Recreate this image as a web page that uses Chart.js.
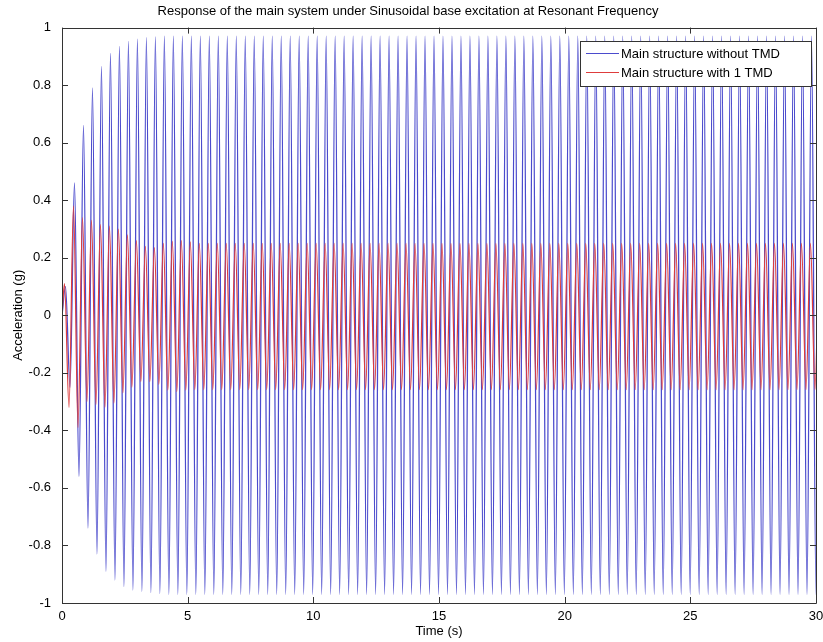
<!DOCTYPE html>
<html lang="en">
<head>
    <meta charset="UTF-8">
    <title>Response of the main system under Sinusoidal base excitation at Resonant Frequency</title>
    <style>
        * { margin: 0; padding: 0; box-sizing: border-box; }
        body { background-color: #fff; }
        #chart { display: block; }
    </style>
</head>
<body>

<canvas id="chart" width="823" height="642"></canvas>

<script src="https://cdn.jsdelivr.net/npm/chart.js@4.4.0/dist/chart.umd.min.js"></script>
<script>
// Axis ticks
const xTicks = [0, 5, 10, 15, 20, 25, 30];
const yTicks = [-1, -0.8, -0.6, -0.4, -0.2, 0, 0.2, 0.4, 0.6, 0.8, 1];

// Timing of the oscillation (peak spacing)
const halfPeriod = 0.1788;   // s between a peak and the next trough
const blueStart = 0.14;      // time of first extreme, without TMD
const redStart = 0.10;       // time of first extreme, with 1 TMD

// Successive peaks / troughs, main structure without TMD (g)
const blueExtrema = [
    0.10, -0.25, 0.46, -0.56, 0.66, -0.74, 0.79, -0.83, 0.865, -0.89,
    0.91, -0.92, 0.935, -0.943, 0.952, -0.955, 0.96, -0.96, 0.965, -0.964,
    0.968, -0.967,
    0.97, -0.97, 0.97, -0.97, 0.97, -0.97, 0.97, -0.97, 0.97, -0.97,
    0.97, -0.97, 0.97, -0.97, 0.97, -0.97, 0.97, -0.97, 0.97, -0.97,
    0.97, -0.97, 0.97, -0.97, 0.97, -0.97, 0.97, -0.97, 0.97, -0.97,
    0.97, -0.97, 0.97, -0.97, 0.97, -0.97, 0.97, -0.97, 0.97, -0.97,
    0.97, -0.97, 0.97, -0.97, 0.97, -0.97, 0.97, -0.97, 0.97, -0.97,
    0.97, -0.97, 0.97, -0.97, 0.97, -0.97, 0.97, -0.97, 0.97, -0.97,
    0.97, -0.97, 0.97, -0.97, 0.97, -0.97, 0.97, -0.97, 0.97, -0.97,
    0.97, -0.97, 0.97, -0.97, 0.97, -0.97, 0.97, -0.97, 0.97, -0.97,
    0.97, -0.97, 0.97, -0.97, 0.97, -0.97, 0.97, -0.97, 0.97, -0.97,
    0.97, -0.97, 0.97, -0.97, 0.97, -0.97, 0.97, -0.97, 0.97, -0.97,
    0.97, -0.97, 0.97, -0.97, 0.97, -0.97, 0.97, -0.97, 0.97, -0.97,
    0.97, -0.97, 0.97, -0.97, 0.97, -0.97, 0.97, -0.97, 0.97, -0.97,
    0.97, -0.97, 0.97, -0.97, 0.97, -0.97, 0.97, -0.97, 0.97, -0.97,
    0.97, -0.97, 0.97, -0.97, 0.97, -0.97, 0.97, -0.97, 0.97, -0.97,
    0.97, -0.97, 0.97, -0.97, 0.97, -0.97, 0.97, -0.97
];

// Successive peaks / troughs, main structure with 1 TMD (g)
const redExtrema = [
    0.11, -0.32, 0.38, -0.39, 0.34, -0.30, 0.33, -0.31, 0.315, -0.32,
    0.31, -0.305, 0.30, -0.27, 0.28, -0.25, 0.26, -0.23, 0.24, -0.23,
    0.235, -0.24, 0.25, -0.26, 0.257, -0.265, 0.26, -0.26, 0.255, -0.258,
    0.25, -0.258, 0.25, -0.258, 0.25, -0.258, 0.25, -0.258, 0.25, -0.258,
    0.25, -0.258, 0.25, -0.258, 0.25, -0.258, 0.25, -0.258, 0.25, -0.258,
    0.25, -0.258, 0.25, -0.258, 0.25, -0.258, 0.25, -0.258, 0.25, -0.258,
    0.25, -0.258, 0.25, -0.258, 0.25, -0.258, 0.25, -0.258, 0.25, -0.258,
    0.25, -0.258, 0.25, -0.258, 0.25, -0.258, 0.25, -0.258, 0.25, -0.258,
    0.25, -0.258, 0.25, -0.258, 0.25, -0.258, 0.25, -0.258, 0.25, -0.258,
    0.25, -0.258, 0.25, -0.258, 0.25, -0.258, 0.25, -0.258, 0.25, -0.258,
    0.25, -0.258, 0.25, -0.258, 0.25, -0.258, 0.25, -0.258, 0.25, -0.258,
    0.25, -0.258, 0.25, -0.258, 0.25, -0.258, 0.25, -0.258, 0.25, -0.258,
    0.25, -0.258, 0.25, -0.258, 0.25, -0.258, 0.25, -0.258, 0.25, -0.258,
    0.25, -0.258, 0.25, -0.258, 0.25, -0.258, 0.25, -0.258, 0.25, -0.258,
    0.25, -0.258, 0.25, -0.258, 0.25, -0.258, 0.25, -0.258, 0.25, -0.258,
    0.25, -0.258, 0.25, -0.258, 0.25, -0.258, 0.25, -0.258, 0.25, -0.258,
    0.25, -0.258, 0.25, -0.258, 0.25, -0.258, 0.25, -0.258, 0.25, -0.258
];

const seriesNames = ['Main structure without TMD', 'Main structure with 1 TMD'];
const blueColor = 'rgb(75,75,205)';
const redColor = 'rgb(222,60,60)';
const fontFamily = 'Arial, "Liberation Sans", sans-serif';

// point table for the line charts
function toPoints(start, extrema) {
    const pts = [{ x: 0, y: 0 }];
    extrema.forEach((v, i) => pts.push({ x: start + i * halfPeriod, y: v }));
    return pts;
}

// MATLAB style box with inward ticks + legend inside the axes
const matlabBox = {
    id: 'matlabBox',
    afterDraw(chart) {
        const ctx = chart.ctx;
        const a = chart.chartArea;
        const xs = chart.scales.x, ys = chart.scales.y;
        const tl = 6;
        ctx.save();
        ctx.strokeStyle = '#333';
        ctx.lineWidth = 1;
        ctx.beginPath();
        ctx.rect(Math.round(a.left) + 0.5, Math.round(a.top) + 0.5,
                 Math.round(a.right - a.left), Math.round(a.bottom - a.top));
        xTicks.forEach(v => {
            const px = Math.round(xs.getPixelForValue(v)) + 0.5;
            ctx.moveTo(px, a.bottom); ctx.lineTo(px, a.bottom - tl);
            ctx.moveTo(px, a.top); ctx.lineTo(px, a.top + tl);
        });
        yTicks.forEach(v => {
            const py = Math.round(ys.getPixelForValue(v)) + 0.5;
            ctx.moveTo(a.left, py); ctx.lineTo(a.left + tl, py);
            ctx.moveTo(a.right, py); ctx.lineTo(a.right - tl, py);
        });
        ctx.stroke();

        // legend
        const lx = 580, ly = 41, lw = 231, lh = 45;
        ctx.fillStyle = '#fff';
        ctx.fillRect(lx, ly, lw, lh);
        ctx.strokeStyle = '#333';
        ctx.strokeRect(lx + 0.5, ly + 0.5, lw, lh);
        ctx.font = '13px ' + fontFamily;
        ctx.textBaseline = 'middle';
        ctx.fillStyle = '#000';
        [blueColor, redColor].forEach((c, i) => {
            const y = ly + 12.5 + i * 19;
            ctx.strokeStyle = c;
            ctx.beginPath();
            ctx.moveTo(lx + 6, y); ctx.lineTo(lx + 39, y);
            ctx.stroke();
            ctx.fillText(seriesNames[i], lx + 41, y + 1);
        });
        ctx.restore();
    }
};

new Chart(document.getElementById('chart'), {
    type: 'line',
    data: {
        datasets: [{
            label: seriesNames[0],
            data: toPoints(blueStart, blueExtrema),
            borderColor: blueColor,
            borderWidth: 1.3,
            pointRadius: 0,
            cubicInterpolationMode: 'monotone',
            order: 1
        }, {
            label: seriesNames[1],
            data: toPoints(redStart, redExtrema),
            borderColor: redColor,
            borderWidth: 1.2,
            pointRadius: 0,
            cubicInterpolationMode: 'monotone',
            order: 0
        }]
    },
    options: {
        responsive: false,
        animation: false,
        devicePixelRatio: 1,
        layout: { padding: { top: 0, right: 7, bottom: 0, left: 0 } },
        plugins: {
            legend: { display: false },
            tooltip: { enabled: false },
            title: {
                display: true,
                text: 'Response of the main system under Sinusoidal base excitation at Resonant Frequency',
                color: '#000',
                font: { family: fontFamily, size: 13, weight: 'normal' },
                padding: { top: 4, bottom: 8 }
            }
        },
        scales: {
            x: {
                type: 'linear',
                min: 0,
                max: 30,
                afterBuildTicks: s => { s.ticks = xTicks.map(v => ({ value: v })); },
                afterFit: s => { s.height = 39; s.paddingLeft = 0; s.paddingRight = 0; },
                grid: { display: false, drawTicks: false },
                border: { display: false },
                ticks: {
                    color: '#000',
                    padding: 6,
                    maxRotation: 0,
                    font: { family: fontFamily, size: 13 }
                },
                title: {
                    display: true,
                    text: 'Time (s)',
                    color: '#000',
                    padding: { top: 0, bottom: 3 },
                    font: { family: fontFamily, size: 13 }
                }
            },
            y: {
                min: -1,
                max: 1,
                afterBuildTicks: s => { s.ticks = yTicks.map(v => ({ value: v })); },
                afterFit: s => { s.width = 62; s.paddingTop = 0; s.paddingBottom = 0; },
                grid: { display: false, drawTicks: false },
                border: { display: false },
                ticks: {
                    color: '#000',
                    padding: 11,
                    font: { family: fontFamily, size: 13 },
                    callback: v => String(Number(v.toFixed(1)))
                },
                title: {
                    display: true,
                    text: 'Acceleration (g)',
                    color: '#000',
                    padding: { top: 11, bottom: 0 },
                    font: { family: fontFamily, size: 13 }
                }
            }
        }
    },
    plugins: [matlabBox]
});
</script>

</body>
</html>
